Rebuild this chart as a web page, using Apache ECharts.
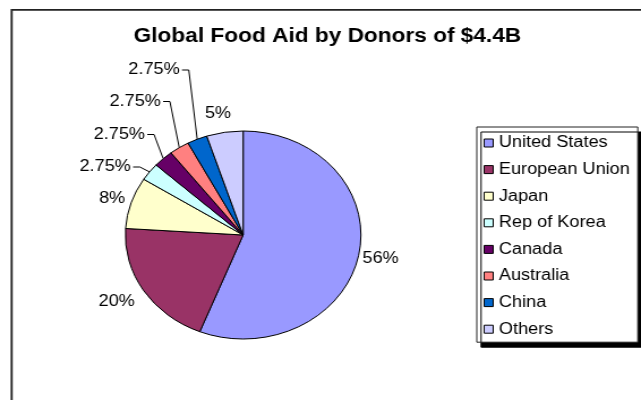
<!DOCTYPE html>
<html>
<head>
<meta charset="utf-8">
<script src="https://cdn.jsdelivr.net/npm/echarts@6/dist/echarts.min.js"></script>
<style>
html, body { margin: 0; padding: 0; background: #fff; overflow: hidden; }
#wrap { width: 641px; height: 400px; overflow: hidden; }
#c { width: 566px; height: 400px; transform: scaleX(1.1325); transform-origin: 0 0; }
</style>
</head>
<body>
<div id="wrap"><div id="c"></div></div>
<script>
// ---- data ----
var categories = ['United States', 'European Union', 'Japan', 'Rep of Korea', 'Canada', 'Australia', 'China', 'Others'];
var shares = [56, 20, 8, 2.75, 2.75, 2.75, 2.75, 5];
var titleText = 'Global Food Aid by Donors of $4.4B';

// ---- styles ----
var colors = ['#9999FF', '#993366', '#FFFFCC', '#CCFFFF', '#660066', '#FF8080', '#0066CC', '#CCCCFF'];
var FONT = "'Liberation Sans', Arial, sans-serif";
// label placement (chart units before horizontal stretch): x, y, align, leader line
var labelSpots = [
  { x: 320, y: 259, align: 'left', line: false },
  { x: 119, y: 302, align: 'right', line: false },
  { x: 110.5, y: 199, align: 'right', line: false },
  { x: 115.5, y: 167, align: 'right', line: true },
  { x: 128, y: 134.5, align: 'right', line: true },
  { x: 142, y: 101.5, align: 'right', line: true },
  { x: 158.7, y: 70, align: 'right', line: true },
  { x: 192.5, y: 114, align: 'center', line: false }
];

var pieData = categories.map(function (n, i) {
  return {
    name: n,
    value: shares[i],
    itemStyle: { color: colors[i] },
    labelLine: { show: labelSpots[i].line }
  };
});

var chart = echarts.init(document.getElementById('c'), null, { renderer: 'canvas' });
chart.setOption({
  animation: false,
  backgroundColor: '#fff',
  graphic: [{
    type: 'rect',
    shape: { x: 10.3, y: 9.8, width: 700, height: 500 },
    style: { fill: 'none', stroke: '#222', lineWidth: 1.8 },
    silent: true,
    z: -1
  }],
  title: {
    text: titleText,
    left: 118,
    top: 26,
    padding: 0,
    textStyle: { fontFamily: FONT, fontSize: 20, fontWeight: 'bold', color: '#000' }
  },
  legend: {
    orient: 'vertical',
    left: 421,
    top: 127,
    padding: [8, 7, 5, 6],
    itemGap: 10.6,
    itemWidth: 8,
    itemHeight: 8,
    icon: 'rect',
    itemStyle: { borderColor: '#000', borderWidth: 1 },
    backgroundColor: '#fff',
    borderColor: '#222',
    borderWidth: 1,
    shadowColor: '#000',
    shadowBlur: 0,
    shadowOffsetX: 3.8,
    shadowOffsetY: 5,
    textStyle: { fontFamily: FONT, fontSize: 16, color: '#000' },
    data: categories
  },
  series: [{
    type: 'pie',
    center: [214.7, 235],
    radius: 104,
    startAngle: 90,
    clockwise: true,
    avoidLabelOverlap: false,
    itemStyle: { borderColor: '#000', borderWidth: 1 },
    emphasis: { disabled: true },
    label: {
      show: true,
      position: 'outside',
      formatter: '{c}%',
      fontFamily: FONT,
      fontSize: 16,
      color: '#000'
    },
    labelLine: {
      show: true,
      length: 10,
      length2: 8,
      lineStyle: { color: '#000', width: 1 }
    },
    labelLayout: function (p) {
      var s = labelSpots[p.dataIndex];
      var out = { x: s.x, y: s.y, align: s.align, verticalAlign: 'middle' };
      if (s.line && p.labelLinePoints) {
        var a = p.labelLinePoints[0];
        out.labelLinePoints = [[a[0], a[1]], [s.x + 8, s.y], [s.x + 2, s.y]];
      }
      return out;
    },
    data: pieData
  }]
});
</script>
</body>
</html>
